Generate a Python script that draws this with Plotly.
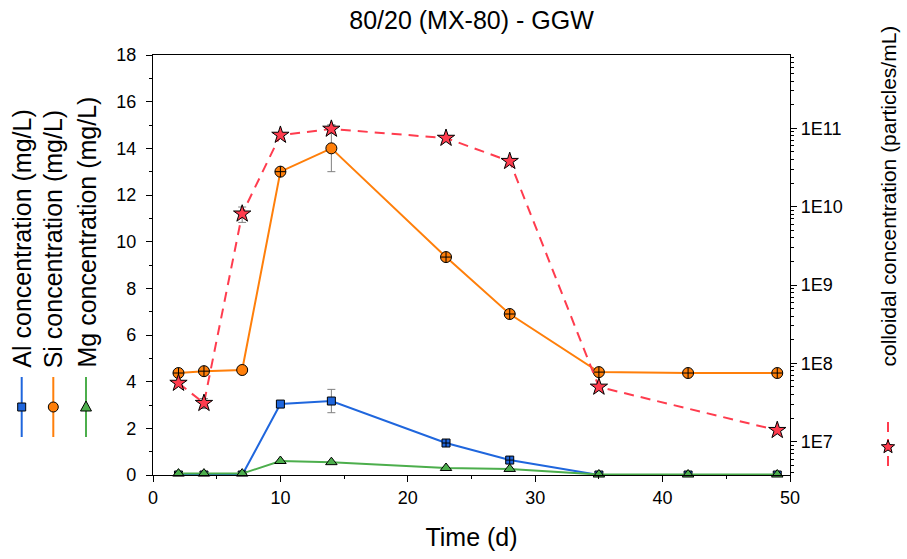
import math
import plotly.graph_objects as go

# ---------------- data ----------------
time_days = [2, 4, 7, 10, 14, 23, 28, 35, 42, 49]
al_conc = [0, 0, 0, 3.04, 3.17, 1.37, 0.64, 0, 0, 0]
al_err = [None, None, None, None, 0.5, None, None, None, None, None]
si_conc = [4.37, 4.45, 4.5, 13.0, 14.0, 9.34, 6.9, 4.41, 4.37, 4.37]
si_err = [None, None, None, None, 1.0, None, None, None, None, None]
mg_conc = [0.06, 0.06, 0.06, 0.6, 0.55, 0.3, 0.26, 0.02, 0.02, 0.02]

colloid_days = [2, 4, 7, 10, 14, 23, 28, 35, 49]
colloid_conc = [5.6e7, 3.1e7, 8.1e9, 8.2e10, 9.8e10, 7.5e10, 3.8e10, 5.0e7, 1.4e7]
colloid_err = [None, 0.45e7, 1.8e9, None, 1.2e10, None, None, None, None]

si_symbols = ["circle-cross", "circle-cross", "circle", "circle-cross", "circle",
              "circle-cross", "circle-cross", "circle-cross", "circle-cross", "circle-cross"]
al_symbols = ["square", "square", "square", "square", "square",
              "square-cross", "square-cross", "square", "square", "square"]

right_ticks = [1e7, 1e8, 1e9, 1e10, 1e11]
right_ticktext = ["1E7", "1E8", "1E9", "1E10", "1E11"]

title_text = "80/20 (MX-80) - GGW"
x_title = "Time (d)"
left_labels = ["Al concentration (mg/L)", "Si concentration (mg/L)", "Mg concentration (mg/L)"]
right_label = "colloidal concentration (particles/mL)"

# ---------------- style ----------------
FONT = "Liberation Sans, Arial, sans-serif"
BLUE = "#1f66dd"
ORANGE = "#ff7f0a"
GREEN = "#4cae4c"
RED = "#ff3c4e"
ERR = "#808080"

W, H = 907, 559
L, R, T, B = 153, 117, 55, 84
PW, PH = W - L - R, H - T - B


def px(x):
    return (x - L) / PW


def py(y):
    return (H - B - y) / PH


fig = go.Figure()

fig.add_trace(go.Scatter(
    x=time_days, y=al_conc, mode="lines+markers", name="Al", cliponaxis=True,
    line=dict(color=BLUE, width=2),
    marker=dict(symbol=al_symbols, size=8, color=BLUE, line=dict(color="black", width=1)),
    error_y=dict(type="data", array=al_err, color=ERR, thickness=1, width=4),
    showlegend=False))

fig.add_trace(go.Scatter(
    x=time_days, y=mg_conc, mode="lines+markers", name="Mg", cliponaxis=False,
    line=dict(color=GREEN, width=2),
    marker=dict(symbol="triangle-up", size=10, color=GREEN, line=dict(color="black", width=1)),
    showlegend=False))

fig.add_trace(go.Scatter(
    x=time_days, y=si_conc, mode="lines+markers", name="Si", cliponaxis=False,
    line=dict(color=ORANGE, width=2),
    marker=dict(symbol=si_symbols, size=11, color=ORANGE, line=dict(color="black", width=1)),
    error_y=dict(type="data", array=si_err, color=ERR, thickness=1, width=4),
    showlegend=False))

fig.add_trace(go.Scatter(
    x=colloid_days, y=colloid_conc, mode="lines+markers", name="colloid", yaxis="y2",
    cliponaxis=False,
    line=dict(color=RED, width=2, dash="10px,7px"),
    marker=dict(symbol="star", size=13, color=RED, line=dict(color="black", width=1)),
    error_y=dict(type="data", array=colloid_err, color=ERR, thickness=1, width=4),
    showlegend=False))

axis_common = dict(showline=True, linecolor="black", linewidth=1.3, ticks="outside",
                   ticklen=6, tickwidth=1.3, tickcolor="black", showgrid=False, zeroline=False,
                   tickfont=dict(family=FONT, size=18, color="black"))

minor_log = [m * 10 ** e for e in range(6, 12) for m in range(2, 10)]

fig.update_layout(
    width=W, height=H, margin=dict(l=L, r=R, t=T, b=B, autoexpand=False),
    paper_bgcolor="white", plot_bgcolor="white",
    title=dict(text=title_text, x=0.5, xref="paper", xanchor="center",
               y=1 - 20 / H, yref="container", yanchor="middle",
               font=dict(family=FONT, size=25, color="black")),
    xaxis=dict(range=[0, 50], dtick=10, tick0=0, mirror=True,
               minor=dict(dtick=5, ticks="outside", ticklen=3, tickcolor="black"),
               title=dict(text=x_title, standoff=21, font=dict(family=FONT, size=25, color="black")),
               **axis_common),
    yaxis=dict(range=[0, 18], dtick=2, tick0=0, ticklabelstandoff=6,
               minor=dict(dtick=1, ticks="outside", ticklen=3, tickcolor="black"),
               **axis_common),
    yaxis2=dict(type="log", overlaying="y", side="right",
                range=[math.log10(3.76e6), math.log10(8.62e11)],
                tickvals=right_ticks, ticktext=right_ticktext,
                minor=dict(tickvals=minor_log, ticks="outside", ticklen=3, tickcolor="black"),
                **axis_common),
)

# ---------------- legend-like vertical labels ----------------
shapes = []
annotations = []
left_cols = [21.7, 53.3, 86.0]
left_colors = [BLUE, ORANGE, GREEN]
for xc, lab, col in zip(left_cols, left_labels, left_colors):
    annotations.append(dict(text=lab, textangle=-90, xref="paper", yref="paper",
                            x=px(xc), y=py(370), xanchor="center", yanchor="bottom",
                            showarrow=False, font=dict(family=FONT, size=25, color="black")))
    shapes.append(dict(type="line", xref="paper", yref="paper",
                       x0=px(xc), x1=px(xc), y0=py(377), y1=py(437),
                       line=dict(color=col, width=2)))

# markers for the left legend
mx = left_cols[0]
shapes.append(dict(type="rect", xref="paper", yref="paper",
                   x0=px(mx - 4), x1=px(mx + 4), y0=py(407 - 4), y1=py(407 + 4),
                   fillcolor=BLUE, line=dict(color="black", width=1)))
mx = left_cols[1]
shapes.append(dict(type="circle", xref="paper", yref="paper",
                   x0=px(mx - 5), x1=px(mx + 5), y0=py(407 - 5), y1=py(407 + 5),
                   fillcolor=ORANGE, line=dict(color="black", width=1)))
mx = left_cols[2]
tri = "M {:.5f} {:.5f} L {:.5f} {:.5f} L {:.5f} {:.5f} Z".format(
    px(mx), py(407 - 6), px(mx - 5.5), py(407 + 4), px(mx + 5.5), py(407 + 4))
shapes.append(dict(type="path", xref="paper", yref="paper", path=tri,
                   fillcolor=GREEN, line=dict(color="black", width=1)))

# right legend
rx = 888
annotations.append(dict(text=right_label, textangle=-90, xref="paper", yref="paper",
                        x=px(rx), y=py(368), xanchor="center", yanchor="bottom",
                        showarrow=False, font=dict(family=FONT, size=21, color="black")))
shapes.append(dict(type="line", xref="paper", yref="paper",
                   x0=px(rx), x1=px(rx), y0=py(422), y1=py(472),
                   line=dict(color=RED, width=2, dash="10px,7px")))
pts = []
for k in range(10):
    ang = -math.pi / 2 + k * math.pi / 5
    rad = 7 if k % 2 == 0 else 3
    pts.append((px(rx + rad * math.cos(ang)), py(447 + rad * math.sin(ang))))
star = "M " + " L ".join("{:.5f} {:.5f}".format(a, b) for a, b in pts) + " Z"
shapes.append(dict(type="path", xref="paper", yref="paper", path=star,
                   fillcolor=RED, line=dict(color="black", width=1)))

fig.update_layout(shapes=shapes, annotations=annotations)

fig.write_html("out.html")
